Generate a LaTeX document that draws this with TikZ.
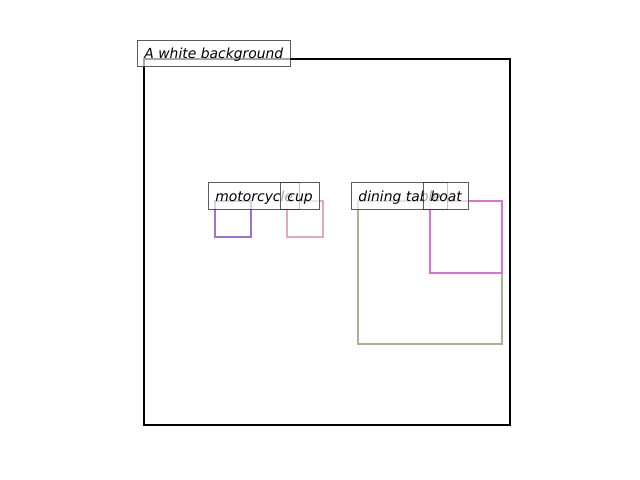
\documentclass[tikz,border=0pt]{standalone}
\usepackage{fontspec}
\newfontfamily\dvs{DejaVu Sans}
\definecolor{cmoto}{HTML}{A070D8}
\definecolor{ccup}{HTML}{E0A8C8}
\definecolor{ctable}{HTML}{B0B090}
\definecolor{cboat}{HTML}{E070D8}
\begin{document}
\begin{tikzpicture}[x=0.72pt,y=-0.72pt,
  bbox/.style={line width=1.5pt},
  lab/.style={anchor=base west, font=\dvs\itshape\fontsize{10}{12}\selectfont,
    fill=white, fill opacity=0.65, text opacity=1, draw=black!80, draw opacity=0.8,
    line width=0.72pt, inner ysep=0pt, inner xsep=5pt,
    text height=13.3pt, text depth=6.1pt}]
\useasboundingbox (0,0) rectangle (640,480);
\draw[bbox, black] (144,59) rectangle (510,425);
\draw[bbox, cmoto] (215,201) rectangle (251,237);
\draw[bbox, ccup] (287,201) rectangle (323,237);
\draw[bbox, ctable] (358,201) rectangle (502,344);
\draw[bbox, cboat] (430,201) rectangle (502,273);
\node[lab] (lbg) at (137,58.5) {A white background};
\node[lab] (lmoto) at (208,201) {motorcycle};
\node[lab] (lcup) at (280,201) {cup};
\node[lab] (ltable) at (351,201) {dining table};
\node[lab] (lboat) at (423,201) {boat};
\end{tikzpicture}
\end{document}
